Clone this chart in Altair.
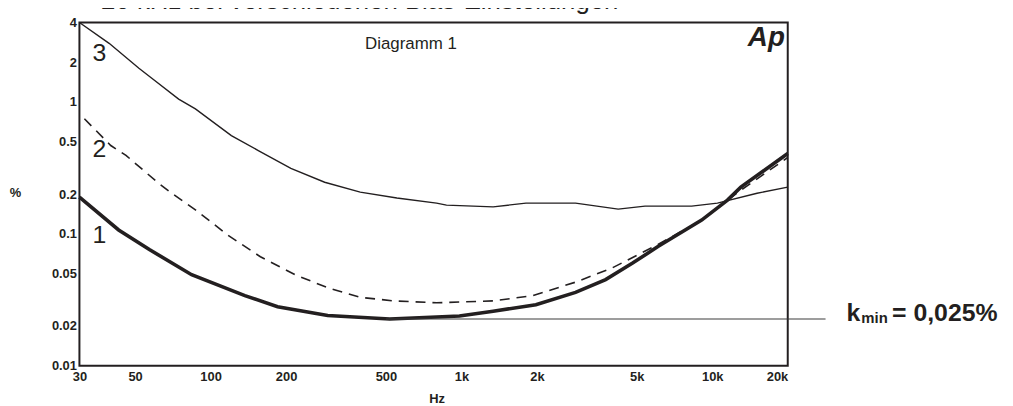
import altair as alt
import pandas as pd

INK = "#231f20"
FONT = "Liberation Sans"

# Curve 1: thick solid
f1 = [30, 43, 57, 84, 137, 185, 293, 518, 796, 982, 1338, 1981, 2851, 3758, 4815, 6076, 9075, 11500, 13000, 20000]
v1 = [0.19, 0.107, 0.076, 0.049, 0.034, 0.028, 0.024, 0.0226, 0.0234, 0.0238, 0.0259, 0.029, 0.036, 0.045, 0.060, 0.080, 0.127, 0.18, 0.226, 0.406]

# Curve 2: dashed
f2 = [31.4, 40, 46, 62, 70, 87, 117, 158, 217, 293, 395, 538, 796, 1338, 1927, 2851, 3984, 6076, 9075, 11500, 13000, 20000]
v2 = [0.745, 0.467, 0.393, 0.242, 0.203, 0.152, 0.098, 0.067, 0.049, 0.039, 0.033, 0.031, 0.030, 0.031, 0.034, 0.043, 0.055, 0.083, 0.127, 0.18, 0.214, 0.379]

# Curve 3: thin solid
f3 = [30, 39.4, 51.8, 58.3, 74.6, 87, 121, 155, 209, 285, 395, 553, 796, 872, 1338, 1809, 2851, 4218, 5395, 8277, 10488, 15093, 20000]
v3 = [4.0, 2.78, 1.80, 1.51, 1.05, 0.886, 0.555, 0.428, 0.313, 0.246, 0.207, 0.187, 0.171, 0.165, 0.160, 0.171, 0.171, 0.154, 0.162, 0.162, 0.171, 0.203, 0.226]

x_ticks = [30, 50, 100, 200, 500, 1000, 2000, 5000, 10000, 20000]
y_ticks = [0.01, 0.02, 0.05, 0.1, 0.2, 0.5, 1, 2, 4]

kmin_value = 0.0226
kmin_from = 500
kmin_to = 28300

curve_labels = ["3", "2", "1"]
curve_label_f = [36, 36, 36]
curve_label_v = [2.03, 0.379, 0.0855]

title_text = "20 kHz bei verschiedenen Bias-Einstellungen"

xs = alt.Scale(type="log", domain=[30, 20000], nice=False)
ys = alt.Scale(type="log", domain=[0.01, 4], nice=False)

xa = alt.Axis(
    values=x_ticks,
    labelExpr="datum.value >= 1000 ? (datum.value / 1000) + 'k' : '' + datum.value",
    ticks=False, domain=False, grid=False,
    labelFont=FONT, labelFontSize=13, labelFontWeight="bold", labelColor=INK,
    labelPadding=5, labelFlush=False, labelOverlap=False,
    labelAlign={"condition": {"test": "datum.value >= 20000", "value": "right"}, "value": "center"},
    title="Hz", titleFont=FONT, titleFontSize=13, titleFontWeight="bold", titleColor=INK,
    titleX=360, titleY=33, titleAlign="center", titleBaseline="middle",
)
ya = alt.Axis(
    values=y_ticks,
    labelExpr="'' + datum.value",
    ticks=False, domain=False, grid=False,
    labelFont=FONT, labelFontSize=13, labelFontWeight="bold", labelColor=INK,
    labelPadding=3, labelFlush=False, labelOverlap=False,
    title="%", titleFont=FONT, titleFontSize=13, titleFontWeight="bold", titleColor=INK,
    titleAngle=0, titleX=-65, titleY=171, titleAlign="center", titleBaseline="middle",
)

X = alt.X("f:Q", scale=xs, axis=xa)
Y = alt.Y("v:Q", scale=ys, axis=ya)

d1 = pd.DataFrame({"f": f1, "v": v1})
d2 = pd.DataFrame({"f": f2, "v": v2})
d3 = pd.DataFrame({"f": f3, "v": v3})

c1 = alt.Chart(d1).mark_line(color=INK, strokeWidth=3.6).encode(x=X, y=Y)
c2 = alt.Chart(d2).mark_line(color=INK, strokeWidth=1.6, strokeDash=[10, 7]).encode(x=X, y=Y)
c3 = alt.Chart(d3).mark_line(color=INK, strokeWidth=1.4).encode(x=X, y=Y)

rule_df = pd.DataFrame({"f": [kmin_from], "f2": [kmin_to], "v": [kmin_value]})
rule = alt.Chart(rule_df).mark_rule(color="#3a3a3a", strokeWidth=1).encode(x=X, x2="f2:Q", y=Y)

lab_df = pd.DataFrame({"f": curve_label_f, "v": curve_label_v, "t": curve_labels})
labs = alt.Chart(lab_df).mark_text(font=FONT, fontSize=25, color=INK, align="center", baseline="alphabetic").encode(x=X, y=Y, text="t:N")

diag_df = pd.DataFrame({"f": [413], "v": [2.5], "t": ["Diagramm 1"]})
diag = alt.Chart(diag_df).mark_text(font=FONT, fontSize=17, color=INK, align="left", baseline="alphabetic").encode(x=X, y=Y, text="t:N")

ap_df = pd.DataFrame({"f": [19480], "v": [2.64], "t": ["Ap"]})
ap = alt.Chart(ap_df).mark_text(font=FONT, fontSize=28, fontWeight="bold", fontStyle="italic", color=INK, align="right", baseline="alphabetic").encode(x=X, y=Y, text="t:N")

title_df = pd.DataFrame({"f": [36.6], "v": [5.1], "t": [title_text]})
title = alt.Chart(title_df).mark_text(font=FONT, fontSize=26, color=INK, align="left", baseline="alphabetic").encode(x=X, y=Y, text="t:N")

k_df = pd.DataFrame({"f": [34275], "v": [0.02179], "t": ["k"]})
k_t = alt.Chart(k_df).mark_text(font=FONT, fontSize=25, fontWeight="bold", color=INK, align="left", baseline="alphabetic").encode(x=X, y=Y, text="t:N")
min_df = pd.DataFrame({"f": [39290], "v": [0.02105], "t": ["min"]})
min_t = alt.Chart(min_df).mark_text(font=FONT, fontSize=15, fontWeight="bold", color=INK, align="left", baseline="alphabetic").encode(x=X, y=Y, text="t:N")
eq_df = pd.DataFrame({"f": [52100], "v": [0.02179], "t": ["= 0,025%"]})
eq_t = alt.Chart(eq_df).mark_text(font=FONT, fontSize=25, fontWeight="bold", color=INK, align="left", baseline="alphabetic").encode(x=X, y=Y, text="t:N")

chart = alt.layer(c3, c2, c1, rule, labs, diag, ap, title, k_t, min_t, eq_t).properties(
    width=714, height=346,
    autosize=alt.AutoSizeParams(type="none"),
    padding={"left": 72, "top": 13, "right": 219, "bottom": 39},
    background="white",
).configure_view(stroke=INK, strokeWidth=2)

chart.save("out.html", embed_options={"renderer": "svg", "actions": False})
